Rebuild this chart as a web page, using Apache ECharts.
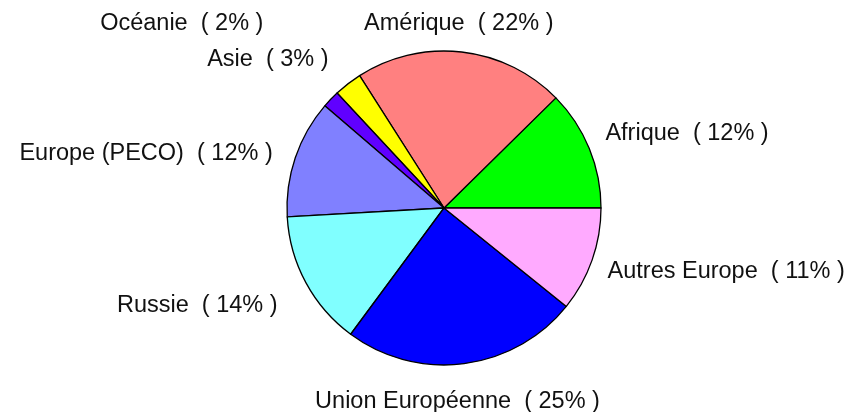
<!DOCTYPE html>
<html><head><meta charset="utf-8">
<script src="https://cdn.jsdelivr.net/npm/echarts@6/dist/echarts.min.js"></script>
<style>html,body{margin:0;padding:0;background:#fff}#c{width:861px;height:412px}</style>
</head><body><div id="c"></div>
<script>
const categories = ['Afrique', 'Amérique', 'Asie', 'Océanie', 'Europe (PECO)', 'Russie', 'Union Européenne', 'Autres Europe'];
const shares = [12.4, 21.7, 2.9, 1.8, 12.2, 14.0, 24.4, 10.8];
const labelPercents = [12, 22, 3, 2, 12, 14, 25, 11];
const colors = ['#00ff00', '#ff8080', '#ffff00', '#6000ff', '#8080ff', '#80ffff', '#0000ff', '#ffaaff'];
const labelPlacement = [
  {align: 'left',   verticalAlign: 'bottom', dx: -1,  dy: 4},
  {align: 'center', verticalAlign: 'bottom', dx: -5,  dy: 2},
  {align: 'right',  verticalAlign: 'bottom', dx: -8,  dy: 2},
  {align: 'right',  verticalAlign: 'bottom', dx: -54, dy: -51},
  {align: 'right',  verticalAlign: 'middle', dx: -5,  dy: 2},
  {align: 'right',  verticalAlign: 'top',    dx: -12, dy: 2},
  {align: 'center', verticalAlign: 'top',    dx: -9,  dy: 7},
  {align: 'left',   verticalAlign: 'middle', dx: -2,  dy: 5}
];

const chart = echarts.init(document.getElementById('c'), null, {renderer: 'canvas'});
chart.setOption({
  animation: false,
  series: [{
    type: 'pie',
    center: [444, 208],
    radius: 157,
    startAngle: 0,
    clockwise: false,
    avoidLabelOverlap: false,
    silent: true,
    data: categories.map((n, i) => ({name: n, value: shares[i], itemStyle: {color: colors[i]}})),
    itemStyle: {borderColor: '#000', borderWidth: 1.3},
    emphasis: {disabled: true},
    label: {
      show: true,
      position: 'outside',
      bleedMargin: 0,
      formatter: p => p.name + '  ( ' + labelPercents[p.dataIndex] + '% )',
      fontFamily: '"Liberation Sans", Arial, sans-serif',
      fontSize: 23.5,
      color: '#111',
      distanceToLabelLine: 0
    },
    labelLine: {show: false, length: 18.5, length2: 0},
    labelLayout: function (p) {
      const a = labelPlacement[p.dataIndex];
      return {align: a.align, verticalAlign: a.verticalAlign, dx: a.dx, dy: a.dy};
    }
  }]
});
</script>
</body></html>
